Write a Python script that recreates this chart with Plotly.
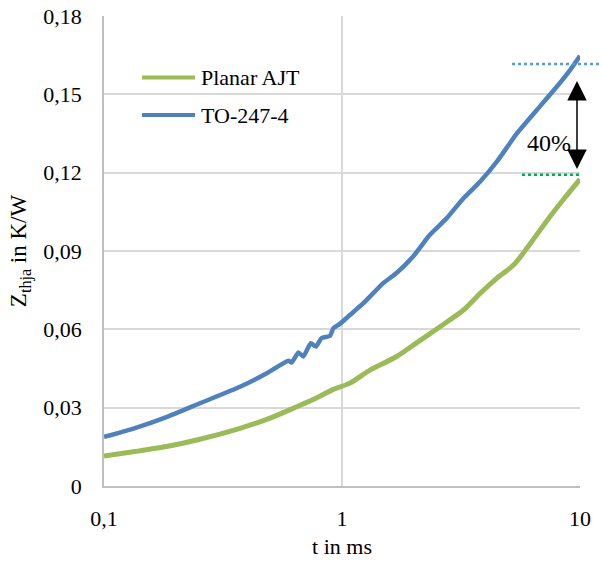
import plotly.graph_objects as go

# ---- data ----
t_to247 = [0.1, 0.135, 0.183, 0.253, 0.373, 0.483, 0.595, 0.614, 0.656, 0.688, 0.739, 0.777,
           0.82, 0.89, 0.92, 0.98, 1.08, 1.23, 1.49, 1.69, 1.99, 2.34, 2.75, 3.24, 3.81,
           4.48, 5.44, 6.6, 8.0, 9.1, 10.0]
z_to247 = [0.0188, 0.0222, 0.0264, 0.0317, 0.0380, 0.0432, 0.0480, 0.0473, 0.0511, 0.0496,
           0.0547, 0.0534, 0.0566, 0.0575, 0.0604, 0.0621, 0.0655, 0.0700, 0.0777, 0.0815,
           0.0879, 0.0962, 0.1025, 0.1102, 0.1166, 0.1243, 0.1351, 0.1441, 0.1530, 0.1594,
           0.1648]

t_planar = [0.1, 0.135, 0.183, 0.253, 0.373, 0.483, 0.625, 0.76, 0.92, 1.08, 1.31, 1.69,
            2.05, 2.58, 3.24, 3.81, 4.48, 5.27, 6.2, 7.3, 8.6, 10.0]
z_planar = [0.0115, 0.0132, 0.0151, 0.0179, 0.0221, 0.0255, 0.0298, 0.0332, 0.0370, 0.0394,
            0.0444, 0.0495, 0.0547, 0.0610, 0.0674, 0.0738, 0.0796, 0.0847, 0.0930, 0.1019,
            0.1102, 0.1175]

x_tickvals = [0.1, 1, 10]
x_ticktext = ["0,1", "1", "10"]
y_tickvals = [0, 0.03, 0.06, 0.09, 0.12, 0.15, 0.18]
y_ticktext = ["0", "0,03", "0,06", "0,09", "0,12", "0,15", "0,18"]

level_to247 = 0.1616
level_planar = 0.1192
diff_label = "40%"

GREEN = "#9BBB59"
BLUE = "#4F81BD"
FONT = "'Liberation Serif', 'Times New Roman', 'DejaVu Serif', serif"
FS = 22

# plot area in page pixels
L, R, T, B = 104, 580, 16, 486
W, H = 602, 565


def px(xp):
    return (xp - L) / (R - L)


def py(yp):
    return (B - yp) / (B - T)


fig = go.Figure()
fig.add_trace(go.Scatter(x=t_planar, y=z_planar, mode="lines", name="Planar AJT",
                         line=dict(color=GREEN, width=5, shape="spline", smoothing=0.7)))
fig.add_trace(go.Scatter(x=t_to247, y=z_to247, mode="lines", name="TO-247-4",
                         line=dict(color=BLUE, width=4.5, shape="spline", smoothing=0.5)))

shapes = []
# dotted reference levels
shapes.append(dict(type="line", xref="paper", yref="y", x0=px(512), x1=px(601),
                   y0=level_to247, y1=level_to247,
                   line=dict(color="#5B9BD5", width=2.5, dash="dot")))
shapes.append(dict(type="line", xref="paper", yref="y", x0=px(522), x1=px(580),
                   y0=level_planar, y1=level_planar,
                   line=dict(color="#00B050", width=2.5, dash="dot")))
# custom legend lines
shapes.append(dict(type="line", xref="paper", yref="paper", x0=px(142), x1=px(195),
                   y0=py(77.5), y1=py(77.5), line=dict(color=GREEN, width=4)))
shapes.append(dict(type="line", xref="paper", yref="paper", x0=px(142), x1=px(195),
                   y0=py(115), y1=py(115), line=dict(color=BLUE, width=4)))

annotations = [
    dict(xref="paper", yref="paper", x=px(199), y=py(77.5), text="Planar AJT",
         showarrow=False, xanchor="left", yanchor="middle",
         font=dict(family=FONT, size=FS, color="black")),
    dict(xref="paper", yref="paper", x=px(199), y=py(115), text="TO-247-4",
         showarrow=False, xanchor="left", yanchor="middle",
         font=dict(family=FONT, size=FS, color="black")),
    dict(xref="paper", yref="paper", x=px(549), y=py(143), text=diff_label,
         showarrow=False, xanchor="center", yanchor="middle",
         font=dict(family=FONT, size=24, color="black")),
    # double-headed arrow
    dict(xref="paper", yref="paper", x=px(577), y=py(169), ax=0, ay=-(169 - 79),
         axref="pixel", ayref="pixel", text=" ", showarrow=True,
         arrowhead=2, startarrowhead=2, arrowside="end+start",
         arrowsize=2.6, startarrowsize=2.6, arrowwidth=1.5, arrowcolor="black",
         font=dict(size=1)),
]

fig.update_layout(
    width=W, height=H,
    margin=dict(l=L, r=W - R, t=T, b=H - B, autoexpand=False),
    paper_bgcolor="white", plot_bgcolor="white",
    showlegend=False,
    font=dict(family=FONT, size=FS, color="black"),
    shapes=shapes, annotations=annotations,
)
fig.update_xaxes(type="log", range=[-1, 1], tickvals=x_tickvals, ticktext=x_ticktext,
                 showgrid=True, gridcolor="#D9D9D9", gridwidth=1.5,
                 showline=True, linecolor="#BFBFBF", linewidth=1.5,
                 ticks="", ticklabelstandoff=12, automargin=False,
                 tickfont=dict(family=FONT, size=FS),
                 title=dict(text="t in ms", font=dict(family=FONT, size=FS), standoff=8),
                 zeroline=False)
fig.update_yaxes(range=[0, 0.18], tickvals=y_tickvals, ticktext=y_ticktext,
                 showgrid=True, gridcolor="#D9D9D9", gridwidth=1.5,
                 showline=True, linecolor="#BFBFBF", linewidth=1.5,
                 ticks="", ticklabelstandoff=16, automargin=False,
                 tickfont=dict(family=FONT, size=FS),
                 title=dict(text="Z<sub>thja</sub> in K/W", font=dict(family=FONT, size=23),
                            standoff=10),
                 zeroline=False)

fig.write_html("out.html",
               config={"displayModeBar": False},
               post_script="document.body.style.margin='0px';"
                           "document.body.style.overflow='hidden';")
